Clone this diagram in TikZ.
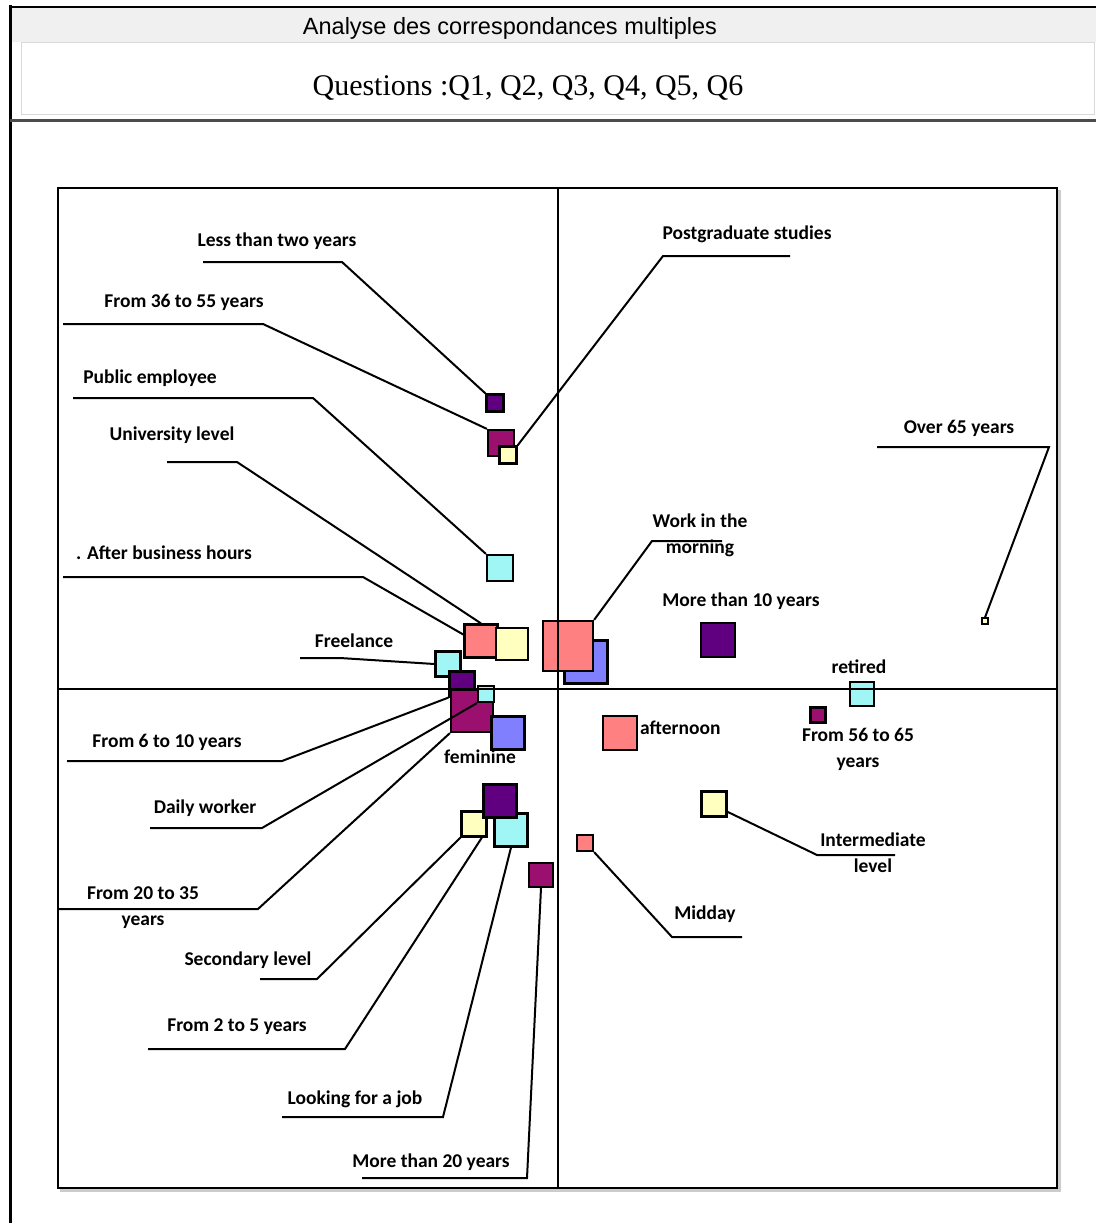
\documentclass[tikz,border=0pt]{standalone}
\usepackage{fontspec}
\newfontfamily\calfont{Carlito}
\newfontfamily\arfont{Liberation Sans}
\newfontfamily\tmfont{Liberation Serif}

\definecolor{cpurple}{RGB}{96,0,128}
\definecolor{cmagenta}{RGB}{155,16,110}
\definecolor{csalmon}{RGB}{255,128,128}
\definecolor{cyellow}{RGB}{255,255,192}
\definecolor{ccyan}{RGB}{160,245,245}
\definecolor{cblue}{RGB}{128,128,255}

\tikzset{
  sq/.style={draw=black, line width=2.2pt, inner sep=0pt, minimum size=#1},
  lab/.style={font=\calfont\bfseries\fontsize{19.5}{26}\selectfont, inner sep=0pt, align=center},
  lead/.style={line width=2pt},
}

\begin{document}
\begin{tikzpicture}[x=1pt, y=-1pt]
\useasboundingbox (0,0) rectangle (1096,1223);

% window header
\fill[gray!12] (10,7) rectangle (1096,42);
\draw[gray!30, fill=white] (21,42) rectangle (1094,114);
\draw[line width=2pt] (10,7) -- (1096,7);
\draw[line width=3pt] (10,5) -- (10,1223);
\draw[line width=3pt, gray!60!black] (10,120) -- (1096,120);
\node[font=\arfont\fontsize{23.5}{26}\selectfont] (hdr) at (510,28) {Analyse des correspondances multiples};
\node[font=\tmfont\fontsize{30}{32}\selectfont] (qst) at (528,88) {Questions :Q1, Q2, Q3, Q4, Q5, Q6};

% plot frame
\draw[line width=4pt, gray!40] (60,1190) -- (1059,1190) -- (1059,190);
\draw[line width=2pt] (58,188) rectangle (1057,1188);

% squares, upper left
\node[sq=17pt, fill=cpurple] (lt2) at (495,403) {};
\node[sq=26pt, fill=cmagenta] (a3655) at (501,443) {};
\node[sq=17pt, fill=cyellow] (pgs) at (508,455) {};
\node[sq=26pt, fill=ccyan] (pub) at (500,568) {};
\node[sq=33pt, fill=csalmon] (uni) at (481,641) {};
\node[sq=32pt, fill=cyellow] (yel) at (512,644) {};
% squares, right side
\node[sq=43pt, fill=cblue] (blu) at (586,662) {};
\node[sq=50pt, fill=csalmon] (morn) at (568,646) {};
\node[sq=34pt, fill=cpurple] (m10) at (718,640) {};
\node[sq=6pt, fill=cyellow, line width=1.2pt] (o65) at (985,621) {};
\node[sq=24pt, fill=ccyan] (ret) at (862,694) {};
\node[sq=15pt, fill=cmagenta] (a5665) at (818,715) {};
\node[sq=34pt, fill=csalmon] (aftn) at (620,733) {};
\node[sq=25pt, fill=cyellow] (intl) at (714,804) {};
\node[sq=16pt, fill=csalmon] (midd) at (585,843) {};
% squares, middle left
\node[sq=25pt, fill=ccyan] (free) at (448,664) {};
\node[sq=25pt, fill=cpurple] (a610) at (462,684) {};
\node[sq=42pt, fill=cmagenta] (a2035) at (472,711) {};
\node[sq=16pt, fill=ccyan] (daily) at (486,694) {};
\node[sq=33pt, fill=cblue] (fem) at (508,733) {};
% squares, lower cluster
\node[sq=25pt, fill=cyellow] (sec) at (474,824) {};
\node[sq=33pt, fill=ccyan] (job) at (511,830) {};
\node[sq=33pt, fill=cpurple] (pur) at (500,801) {};
\node[sq=24pt, fill=cmagenta] (m20) at (541,875) {};

% axes
\draw[line width=1.6pt] (558,188) -- (558,1188);
\draw[line width=1.6pt] (58,689) -- (1057,689);

% labels
\node[lab] (tlt2) at (277,241) {Less than two years};
\node[lab] (t3655) at (184,302) {From 36 to 55 years};
\node[lab] (tpub) at (150,378) {Public employee};
\node[lab] (tuni) at (172,435) {University level};
\node[lab] (tabh) at (164,553) {. After business hours};
\node[lab] (tfree) at (354,641) {Freelance};
\node[lab] (t610) at (167,742) {From 6 to 10 years};
\node[lab] (tfem) at (480,757) {feminine};
\node[lab] (tdaily) at (205,808) {Daily worker};
\node[lab] (t2035) at (143,908) {From 20 to 35\\years};
\node[lab] (tsec) at (248,960) {Secondary level};
\node[lab] (t25) at (237,1027) {From 2 to 5 years};
\node[lab] (tjob) at (355,1099) {Looking for a job};
\node[lab] (tm20) at (431,1162) {More than 20 years};
\node[lab] (tpgs) at (747,234) {Postgraduate studies};
\node[lab] (to65) at (959,428) {Over 65 years};
\node[lab] (tmorn) at (700,535) {Work in the\\morning};
\node[lab] (tm10) at (741,601) {More than 10 years};
\node[lab] (tret) at (859,667) {retired};
\node[lab, anchor=west] (taftn) at (640,728) {afternoon};
\node[lab] (t5665) at (858,749) {From 56 to 65\\years};
\node[lab] (tintl) at (873,853) {Intermediate\\level};
\node[lab] (tmidd) at (705,914) {Midday};

% leader line bends
\coordinate (klt2) at (342,262);
\coordinate (k3655) at (263,324);
\coordinate (kpub) at (313,398);
\coordinate (kuni) at (237,462);
\coordinate (kabh) at (363,577);
\coordinate (kpgs) at (663,256);
\coordinate (kfree) at (340,658);
\coordinate (k610) at (282,761);
\coordinate (kdaily) at (262,828);
\coordinate (k2035) at (258,909);
\coordinate (ksec) at (317,979);
\coordinate (k25) at (345,1049);
\coordinate (kjob) at (443,1117);
\coordinate (km20) at (527,1178);
\coordinate (kmorn) at (652,541);
\coordinate (ko65) at (1049,447);
\coordinate (kintl) at (817,855);
\coordinate (kmidd) at (672,937);

% leader lines
\draw[lead] (lt2.north west) -- (klt2) -- ++(-139,0);
\draw[lead] (a3655.north west) -- (k3655) -- ++(-200,0);
\draw[lead] (pub.north west) -- (kpub) -- ++(-240,0);
\draw[lead] (uni.north) -- (kuni) -- ++(-70,0);
\draw[lead] (uni.160) -- (kabh) -- ++(-300,0);
\draw[lead] (pgs.north east) -- (kpgs) -- ++(127,0);
\draw[lead] (free.west) -- (kfree) -- ++(-40,0);
\draw[lead] (a610.south west) -- (k610) -- ++(-215,0);
\draw[lead] (daily.south west) -- (kdaily) -- ++(-112,0);
\draw[lead] (a2035.south west) -- (k2035) -- ++(-200,0);
\draw[lead] (sec.south west) -- (ksec) -- ++(-57,0);
\draw[lead] (sec.300) -- (k25) -- ++(-197,0);
\draw[lead] (job.south) -- (kjob) -- ++(-161,0);
\draw[lead] (m20.south) -- (km20) -- ++(-165,0);
\draw[lead] (morn.north east) -- (kmorn) -- ++(70,0);
\draw[lead] (o65.north) -- (ko65) -- ++(-172,0);
\draw[lead] (intl.-30) -- (kintl) -- ++(78,0);
\draw[lead] (midd.south east) -- (kmidd) -- ++(70,0);
\end{tikzpicture}
\end{document}
